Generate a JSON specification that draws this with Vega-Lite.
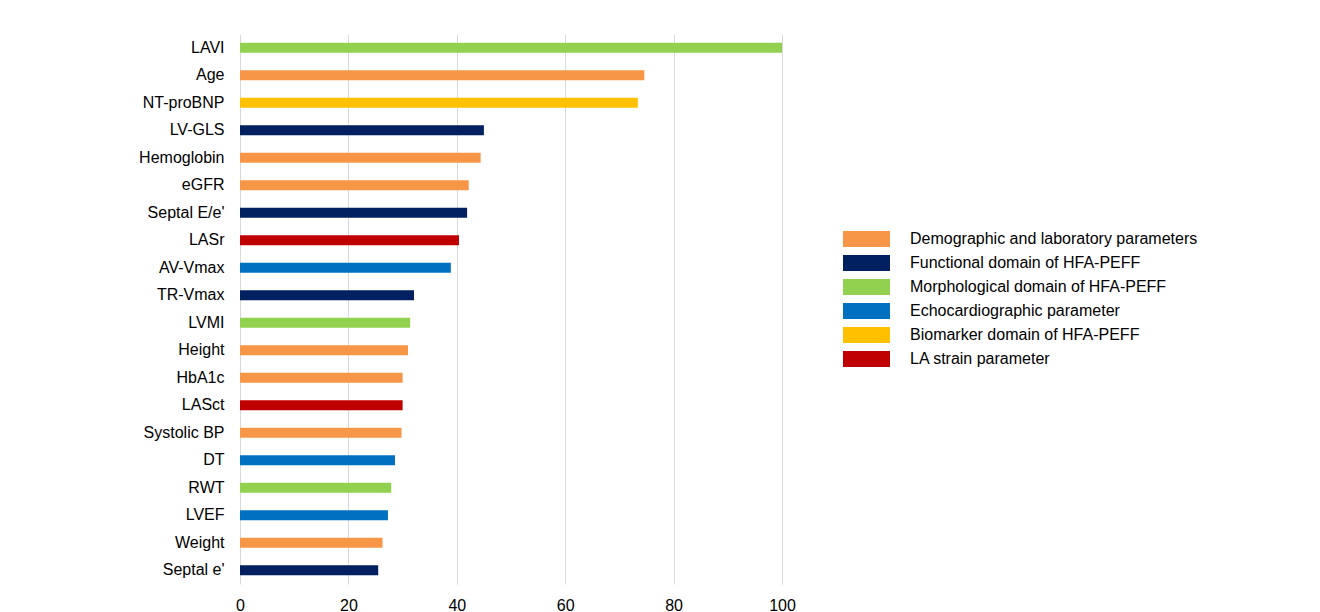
{
  "$schema": "https://vega.github.io/schema/vega-lite/v6.json",
  "autosize": "none",
  "width": 542,
  "height": 550,
  "padding": {"left": 240, "top": 34, "right": 538, "bottom": 28},
  "background": "white",
  "config": {
    "view": {"stroke": null},
    "font": "Liberation Sans",
    "axis": {"labelFont": "Liberation Sans", "labelFontSize": 16, "labelColor": "#000000", "domain": false, "ticks": false, "tickSize": 0, "title": null},
    "legend": {"labelFont": "Liberation Sans", "labelFontSize": 16, "labelColor": "#000000"}
  },
  "data": {
    "values": [
      {"param": "LAVI", "value": 100, "group": "Morphological domain of HFA-PEFF"},
      {"param": "Age", "value": 74.6, "group": "Demographic and laboratory parameters"},
      {"param": "NT-proBNP", "value": 73.4, "group": "Biomarker domain of HFA-PEFF"},
      {"param": "LV-GLS", "value": 45.0, "group": "Functional domain of HFA-PEFF"},
      {"param": "Hemoglobin", "value": 44.4, "group": "Demographic and laboratory parameters"},
      {"param": "eGFR", "value": 42.2, "group": "Demographic and laboratory parameters"},
      {"param": "Septal E/e'", "value": 41.9, "group": "Functional domain of HFA-PEFF"},
      {"param": "LASr", "value": 40.4, "group": "LA strain parameter"},
      {"param": "AV-Vmax", "value": 38.9, "group": "Echocardiographic parameter"},
      {"param": "TR-Vmax", "value": 32.1, "group": "Functional domain of HFA-PEFF"},
      {"param": "LVMI", "value": 31.4, "group": "Morphological domain of HFA-PEFF"},
      {"param": "Height", "value": 31.0, "group": "Demographic and laboratory parameters"},
      {"param": "HbA1c", "value": 30.0, "group": "Demographic and laboratory parameters"},
      {"param": "LASct", "value": 30.0, "group": "LA strain parameter"},
      {"param": "Systolic BP", "value": 29.8, "group": "Demographic and laboratory parameters"},
      {"param": "DT", "value": 28.6, "group": "Echocardiographic parameter"},
      {"param": "RWT", "value": 27.9, "group": "Morphological domain of HFA-PEFF"},
      {"param": "LVEF", "value": 27.3, "group": "Echocardiographic parameter"},
      {"param": "Weight", "value": 26.3, "group": "Demographic and laboratory parameters"},
      {"param": "Septal e'", "value": 25.5, "group": "Functional domain of HFA-PEFF"}
    ]
  },
  "mark": {"type": "bar", "orient": "horizontal"},
  "encoding": {
    "y": {
      "field": "param", "type": "nominal", "sort": null,
      "scale": {"paddingInner": 0.636, "paddingOuter": 0.318},
      "axis": {"labelPadding": 16, "grid": false}
    },
    "x": {
      "field": "value", "type": "quantitative",
      "scale": {"domain": [0, 100], "nice": false},
      "axis": {"values": [0, 20, 40, 60, 80, 100], "grid": true, "gridColor": "#D9D9D9", "gridWidth": 1, "labelPadding": 13, "labelFlush": false}
    },
    "color": {
      "field": "group", "type": "nominal",
      "scale": {
        "domain": ["Demographic and laboratory parameters", "Functional domain of HFA-PEFF", "Morphological domain of HFA-PEFF", "Echocardiographic parameter", "Biomarker domain of HFA-PEFF", "LA strain parameter"],
        "range": ["#F79646", "#002060", "#92D050", "#0070C0", "#FFC000", "#C00000"]
      },
      "legend": {
        "title": null,
        "orient": "none",
        "legendX": 603,
        "legendY": 194,
        "symbolType": "M-1,-0.34H1V0.34H-1Z",
        "symbolSize": 2209,
        "symbolOpacity": 1,
        "symbolStrokeWidth": 0,
        "clipHeight": 22,
        "labelOffset": 20,
        "rowPadding": 2,
        "labelLimit": 400
      }
    }
  }
}
